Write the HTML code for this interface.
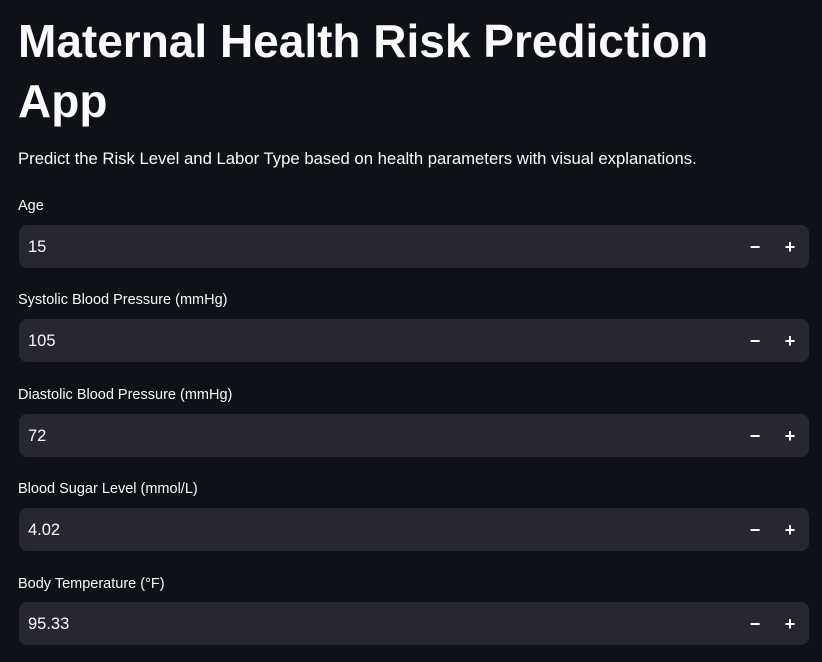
<!DOCTYPE html>
<html><head><meta charset="utf-8"><style>
body{margin:0;background:#0e1117;width:822px;height:662px;overflow:hidden;font-family:"Liberation Sans",sans-serif;color:#fafafa;position:relative}
.t{position:absolute;left:18px;font-weight:bold;font-size:46px;white-space:nowrap;transform-origin:left top;transform:scaleX(1.0)}
.sub{position:absolute;left:18px;top:149px;font-size:16.7px;white-space:nowrap}
.lbl{position:absolute;left:18px;font-size:14.5px;white-space:nowrap}
.inp{position:absolute;left:19px;width:790px;height:43px;background:#262730;border-radius:8px}
.val{position:absolute;left:9px;top:13px;font-size:16.5px}
.btn{position:absolute;top:10px;width:24px;height:24px;font-size:18px;font-weight:bold;text-align:center;line-height:24px;color:#fafafa}
</style></head><body>
<div class="t" style="top:14px">Maternal Health Risk Prediction</div>
<div class="t" style="top:74px">App</div>
<div class="sub">Predict the Risk Level and Labor Type based on health parameters with visual explanations.</div>

<div class="lbl" style="top:198px">Age</div>
<div class="inp" style="top:225px"><span class="val">15</span><span class="btn" style="left:724px">−</span><span class="btn" style="left:759px">+</span></div>

<div class="lbl" style="top:292px">Systolic Blood Pressure (mmHg)</div>
<div class="inp" style="top:319px"><span class="val">105</span><span class="btn" style="left:724px">−</span><span class="btn" style="left:759px">+</span></div>

<div class="lbl" style="top:387px">Diastolic Blood Pressure (mmHg)</div>
<div class="inp" style="top:414px"><span class="val">72</span><span class="btn" style="left:724px">−</span><span class="btn" style="left:759px">+</span></div>

<div class="lbl" style="top:481px">Blood Sugar Level (mmol/L)</div>
<div class="inp" style="top:508px"><span class="val">4.02</span><span class="btn" style="left:724px">−</span><span class="btn" style="left:759px">+</span></div>

<div class="lbl" style="top:576px">Body Temperature (°F)</div>
<div class="inp" style="top:602px"><span class="val">95.33</span><span class="btn" style="left:724px">−</span><span class="btn" style="left:759px">+</span></div>
</body></html>
